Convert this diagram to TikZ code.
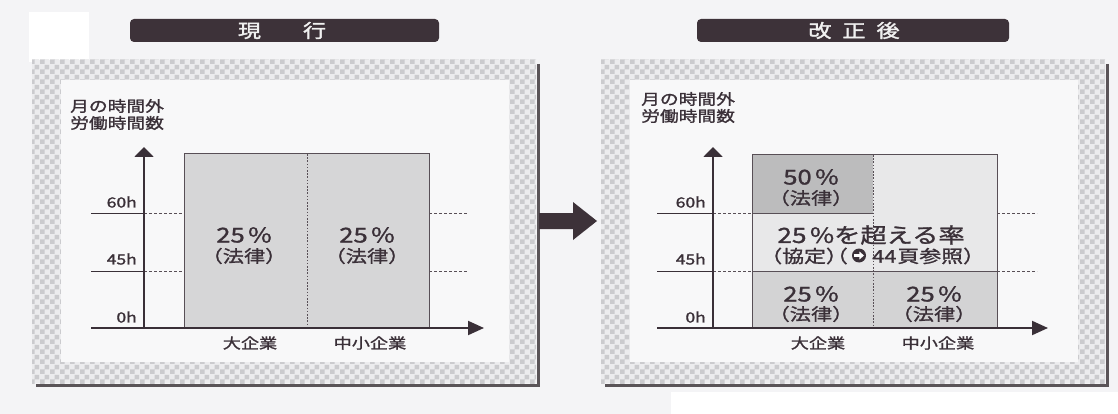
\documentclass[tikz,border=0pt]{standalone}
\usepackage{fontspec}
\usetikzlibrary{patterns,arrows.meta}
\newfontfamily\jp[FakeStretch=1.25, FakeBold=1.3]{Noto Sans CJK JP}
\newfontfamily\jph[FakeStretch=1.25, FakeBold=1.3, RawFeature={+halt}]{Noto Sans CJK JP}
\newfontfamily\jpt[FakeStretch=1.25, FakeBold=1.8]{Noto Sans CJK JP}
\definecolor{bg}{HTML}{F4F4F6}
\definecolor{ink}{HTML}{3A3038}
\definecolor{barc}{HTML}{3D3239}
\definecolor{chk}{HTML}{CBCBCE}
\definecolor{chkbg}{HTML}{ECECEE}
\definecolor{shadowc}{HTML}{5A5458}
\definecolor{boxA}{HTML}{D6D6D7}
\definecolor{darkcell}{HTML}{BCBCBD}
\definecolor{lightcell}{HTML}{E8E8E9}
\definecolor{botcell}{HTML}{D3D3D4}
\definecolor{innerc}{HTML}{F8F8F9}
\pgfdeclarepatternformonly{checks}{\pgfqpoint{0pt}{0pt}}{\pgfqpoint{10pt}{10pt}}{\pgfqpoint{10pt}{10pt}}{%
  \pgfpathrectangle{\pgfqpoint{0pt}{0pt}}{\pgfqpoint{5pt}{5pt}}%
  \pgfpathrectangle{\pgfqpoint{5pt}{5pt}}{\pgfqpoint{5pt}{5pt}}%
  \pgfusepath{fill}}
\tikzset{
  titletext/.style={text=white!94!black, font=\jpt\fontsize{18.5}{18.5}\selectfont, inner sep=0pt},
  titlebar/.style={fill=barc, rounded corners=4pt},
  pct/.style={text=ink, font=\jp\fontsize{20.5}{20.5}\selectfont, inner sep=0pt},
  law/.style={text=ink, font=\jp\fontsize{17}{17}\selectfont, inner sep=0pt},
  big/.style={text=ink, font=\jp\fontsize{21}{21}\selectfont, inner sep=0pt},
  note/.style={text=ink, font=\jph\fontsize{17.5}{17.5}\selectfont, inner sep=0pt},
  tick/.style={text=ink, font=\jp\fontsize{14}{14}\selectfont, inner sep=0pt, anchor=east},
  ylab/.style={text=ink, font=\jp\fontsize{15}{17}\selectfont, inner sep=0pt, anchor=west},
  cat/.style={text=ink, font=\jp\fontsize{14.5}{14.5}\selectfont, inner sep=0pt},
  axis/.style={draw=ink, line width=2pt},
  guide/.style={draw=ink, line width=0.9pt},
  dotline/.style={draw=ink!85, line width=0.9pt, dash pattern=on 2.5pt off 2.5pt},
  boxline/.style={draw=ink!85, line width=1pt},
  frameout/.style={pattern=checks, pattern color=chk},
  shadowline/.style={draw=shadowc, line width=3pt},
}
\begin{document}
\begin{tikzpicture}[x=1pt,y=-1pt]
\useasboundingbox (0,0) rectangle (1118,414);
\fill[bg] (0,0) rectangle (1118,414);
\fill[white] (29,12) rectangle (89,62);
\fill[white] (671,392) rectangle (1118,414);

% ---------- frames ----------
\foreach \dx in {0,569}{
  \begin{scope}[xshift=\dx pt]
    \fill[chkbg] (32,60) rectangle (536,383);
    \fill[frameout] (32,60) rectangle (536,383);
    \fill[innerc] (61,80) rectangle (509,362);
    \draw[shadowline] (538,64) -- (538,385) -- (36,385);
  \end{scope}
}

% ---------- title bars ----------
\fill[titlebar] (130,19) rectangle (439,42);
\node[titletext] (t1) at (282,30.5) {現\hspace{42pt}行};
\fill[titlebar] (697,19) rectangle (1009,42);
\node[titletext] (t2) at (854,30.5) {改\hspace{11pt}正\hspace{11pt}後};

% ---------- big arrow ----------
\fill[barc] (539,213) -- (573,213) -- (573,202) -- (597,221) -- (573,240) -- (573,229) -- (539,229) -- cycle;

% ---------- left chart ----------
\coordinate (LO) at (144,328);
\coordinate (LYt) at (144,147);
\coordinate (LXs) at (91,328);
\coordinate (LXt) at (484,328);
\draw[guide] (91,213) -- (144,213);
\draw[guide] (91,271) -- (144,271);
\draw[dotline] (144,213) -- (184,213);
\draw[dotline] (144,271) -- (184,271);
\draw[dotline] (429,213) -- (468,213);
\draw[dotline] (429,271) -- (468,271);
\fill[boxA] (184,154) rectangle (429,328);
\draw[boxline] (184,328) -- (184,154) -- (429,154) -- (429,328);
\draw[dotline, dash pattern=on 1.6pt off 1.6pt] (307,154) -- (307,328);
\draw[axis, -{Triangle[length=10pt,width=19pt]}] (LO) -- (LYt);
\draw[axis, -{Triangle[length=16pt,width=14pt]}] (LXs) -- (LXt);
\node[ylab] (ly1) at (70,106) {月の時間外};
\node[ylab] (ly2) at (70,123) {労働時間数};
\node[tick] (l60) at (137,202) {60h};
\node[tick] (l45) at (137,259) {45h};
\node[tick] (l0) at (137,317) {0h};
\node[pct] (lp1) at (244,235) {25\,\%};
\node[law] (ll1) at (244,256) {（法律）};
\node[pct] (lp2) at (367,235) {25\,\%};
\node[law] (ll2) at (367,256) {（法律）};
\node[cat] (lc1) at (250,343) {大企業};
\node[cat] (lc2) at (370,343) {中小企業};

% ---------- right chart ----------
\coordinate (RO) at (713,328);
\coordinate (RYt) at (713,147);
\coordinate (RXs) at (657,328);
\coordinate (RXt) at (1048,328);
\draw[guide] (657,213) -- (713,213);
\draw[guide] (657,271) -- (713,271);
\draw[dotline] (713,213) -- (752,213);
\draw[dotline] (713,271) -- (752,271);
\draw[dotline] (997,213) -- (1037,213);
\draw[dotline] (997,271) -- (1037,271);
\fill[darkcell] (752,155) rectangle (873,213);
\fill[lightcell] (873,155) rectangle (997,213);
\fill[lightcell] (752,213) rectangle (997,271);
\fill[botcell] (752,271) rectangle (997,328);
\draw[boxline] (752,328) -- (752,155) -- (997,155) -- (997,328);
\draw[boxline] (752,213) -- (873,213);
\draw[boxline] (752,271) -- (997,271);
\draw[dotline, dash pattern=on 1.6pt off 1.6pt] (873,155) -- (873,328);
\draw[axis, -{Triangle[length=10pt,width=19pt]}] (RO) -- (RYt);
\draw[axis, -{Triangle[length=16pt,width=14pt]}] (RXs) -- (RXt);
\node[ylab] (ry1) at (641,99) {月の時間外};
\node[ylab] (ry2) at (641,116) {労働時間数};
\node[tick] (r60) at (706,202) {60h};
\node[tick] (r45) at (706,259) {45h};
\node[tick] (r0) at (706,317) {0h};
\node[pct] (rp50) at (811,177) {50\,\%};
\node[law] (rl50) at (811,198) {（法律）};
\node[big] (rmid) at (871,235) {25\,\%を超える率};
\node[note, anchor=east] (rnA) at (848,256) {（協定）（};
\fill[ink] (859,255.5) circle (7pt);
\fill[white] (854.3,254) rectangle (860,257);
\fill[white] (859.4,251.5) -- (864,255.5) -- (859.4,259.5) -- cycle;
\node[note, anchor=west] (rnB) at (872,256) {44\hspace{1pt}頁参照）};
\node[pct] (rp1) at (811,294) {25\,\%};
\node[law] (rl1) at (811,314) {（法律）};
\node[pct] (rp2) at (934,294) {25\,\%};
\node[law] (rl2) at (934,314) {（法律）};
\node[cat] (rc1) at (818,343) {大企業};
\node[cat] (rc2) at (938,343) {中小企業};
\end{tikzpicture}
\end{document}
